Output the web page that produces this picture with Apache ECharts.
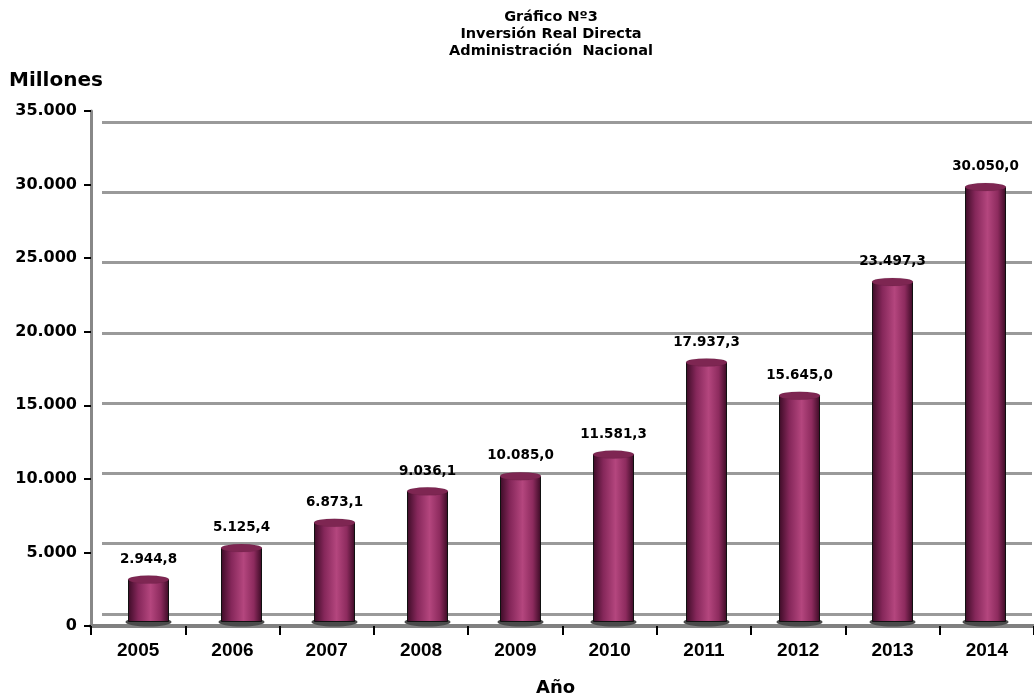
<!DOCTYPE html>
<html>
<head>
<meta charset="utf-8">
<script src="https://cdn.jsdelivr.net/npm/echarts@6/dist/echarts.min.js"></script>
<style>
html,body{margin:0;padding:0;background:#fff;}
#c{width:1034px;height:700px;}
</style>
</head>
<body>
<div id="c"></div>
<script>
const categories = ['2005','2006','2007','2008','2009','2010','2011','2012','2013','2014'];
const values = [2944.8, 5125.4, 6873.1, 9036.1, 10085.0, 11581.3, 17937.3, 15645.0, 23497.3, 30050.0];
const yTicks = [0, 5000, 10000, 15000, 20000, 25000, 30000, 35000];
const titleLines = ['Gráfico Nº3', 'Inversión Real Directa', 'Administración  Nacional'];
const yName = 'Millones';
const xName = 'Año';

function fmtThousands(n){
  return String(n).replace(/\B(?=(\d{3})+(?!\d))/g, '.');
}
function fmtValue(v){
  const parts = v.toFixed(1).split('.');
  return fmtThousands(parts[0]) + ',' + parts[1];
}

const FONT = 'DejaVu Sans';
const FONT2 = 'Liberation Sans';
const chart = echarts.init(document.getElementById('c'));
const barGrad = new echarts.graphic.LinearGradient(0,0,1,0,[
  {offset:0, color:'#3c0b26'},
  {offset:0.25, color:'#85275a'},
  {offset:0.55, color:'#b4467e'},
  {offset:0.8, color:'#8d2b5e'},
  {offset:1, color:'#3a0a24'}
]);

chart.setOption({
  animation:false,
  title:{
    text: titleLines.join('\n'),
    left: 546, textAlign:'center', top: 4,
    textStyle:{fontFamily:FONT, fontWeight:'bold', fontSize:14.5, lineHeight:17, color:'#000'}
  },
  graphic:[
    {type:'text', left:9, top:71, style:{text:yName, font:'bold 20px "DejaVu Sans"', fill:'#000'}},
    {type:'text', left:536, top:679, style:{text:xName, font:'bold 18px "DejaVu Sans"', fill:'#000'}}
  ],
  grid:[
    {left:91, top:111, width:945, height:515},
    {left:102, top:122, width:930, height:492},
    {left:102, top:115, width:930, height:507}
  ],
  xAxis:[
    {type:'category', gridIndex:0, data:categories,
      axisLine:{show:true, lineStyle:{color:'#808080', width:4}},
      axisTick:{show:true, length:9, lineStyle:{color:'#000', width:2}},
      axisLabel:{fontFamily:FONT2, fontWeight:'bold', fontSize:19, color:'#000', margin:15},
      splitLine:{show:false}},
    {type:'category', gridIndex:1, data:categories,
      axisLine:{show:false}, axisTick:{show:false}, axisLabel:{show:false}, splitLine:{show:false}},
    {type:'category', gridIndex:2, data:categories,
      axisLine:{show:false}, axisTick:{show:false}, axisLabel:{show:false}, splitLine:{show:false}}
  ],
  yAxis:[
    {type:'value', gridIndex:0, min:0, max:35000, interval:5000,
      axisLine:{show:true, lineStyle:{color:'#888', width:3}},
      axisTick:{show:true, length:7, lineStyle:{color:'#000', width:2}},
      axisLabel:{fontFamily:FONT, fontWeight:'bold', fontSize:16, color:'#000', margin:14,
        formatter:function(v){ return yTicks.indexOf(v)>=0 ? fmtThousands(v) : ''; }},
      splitLine:{show:false}},
    {type:'value', gridIndex:1, min:0, max:35000, interval:5000,
      axisLine:{show:false}, axisTick:{show:false}, axisLabel:{show:false},
      splitLine:{show:true, lineStyle:{color:'#9a9a9a', width:3}}},
    {type:'value', gridIndex:2, min:0, max:35000, interval:5000,
      axisLine:{show:false}, axisTick:{show:false}, axisLabel:{show:false}, splitLine:{show:false}}
  ],
  series:[
    {type:'pictorialBar', xAxisIndex:2, yAxisIndex:2, data:values,
      symbol:'circle', symbolSize:[46,9], symbolPosition:'start', symbolOffset:[0,'50%'],
      itemStyle:{color:'#4a4a4a'}, z:2},
    {type:'bar', xAxisIndex:2, yAxisIndex:2, data:values, barWidth:41,
      itemStyle:{color:barGrad, borderColor:'#111', borderWidth:1},
      label:{show:true, position:'top', distance:13, formatter:function(p){return fmtValue(p.value);},
        fontFamily:FONT, fontWeight:'bold', fontSize:13.5, color:'#000'},
      z:3},
    {type:'pictorialBar', xAxisIndex:2, yAxisIndex:2, data:values,
      symbol:'circle', symbolSize:[41,8], symbolPosition:'end', symbolOffset:[0,'-50%'],
      itemStyle:{color:'#7e2652', borderColor:'#000', borderWidth:1.2},
      z:4}
  ]
});
</script>
</body>
</html>
